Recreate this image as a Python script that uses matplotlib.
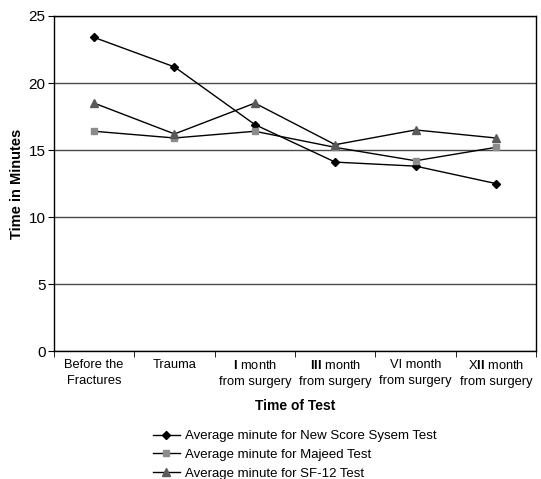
import numpy as np
import matplotlib
matplotlib.use("Agg")
import matplotlib.pyplot as plt

plt.rcParams['font.family'] = ['Liberation Sans', 'DejaVu Sans']
plt.rcParams['mathtext.fontset'] = 'custom'
plt.rcParams['mathtext.bf'] = 'Liberation Sans:bold'
plt.rcParams['mathtext.rm'] = 'Liberation Sans'

categories = ["Before the\nFractures", "Trauma", "$\\mathbf{I}$ month\nfrom surgery",
              "$\\mathbf{III}$ month\nfrom surgery", "VI month\nfrom surgery",
              "X$\\mathbf{II}$ month\nfrom surgery"]
new_score = [23.4, 21.2, 16.9, 14.1, 13.8, 12.5]
majeed = [16.4, 15.9, 16.4, 15.2, 14.2, 15.2]
sf12 = [18.5, 16.2, 18.5, 15.4, 16.5, 15.9]

fig = plt.figure(figsize=(5.41, 4.79), dpi=100)
ax = fig.add_axes([0.0998, 0.267, 0.891, 0.6996])

x = np.arange(len(categories))
ax.plot(x, new_score, color='black', lw=1, marker='D', ms=4.5, mfc='black', mec='black',
        label='Average minute for New Score Sysem Test')
ax.plot(x, majeed, color='black', lw=1, marker='s', ms=5, mfc='#8c8c8c', mec='#8c8c8c',
        label='Average minute for Majeed Test')
ax.plot(x, sf12, color='black', lw=1, marker='^', ms=5.5, mfc='#5a5a5a', mec='#5a5a5a',
        label='Average minute for SF-12 Test')

ax.set_xlim(-0.5, 5.5)
ax.set_ylim(0, 25)
ax.set_yticks([0, 5, 10, 15, 20, 25])
ax.yaxis.grid(True, color='#4a4a4a', lw=1)
ax.set_axisbelow(True)

ax.set_xticks(x)
ax.set_xticklabels(categories, fontsize=9.3, linespacing=1.4)
ax.set_xticks(np.arange(-0.5, 6, 1), minor=True)
ax.tick_params(axis='x', which='major', length=0, pad=6)
ax.tick_params(axis='x', which='minor', length=4, direction='out')
ax.tick_params(axis='y', labelsize=11, length=4, pad=2)

for s in ax.spines.values():
    s.set_color('black')
    s.set_linewidth(1)

ax.set_ylabel('Time in Minutes', fontsize=10.5, fontweight='bold', labelpad=3)
ax.set_xlabel('Time of Test', fontsize=10, fontweight='bold', labelpad=8)

fig.legend(loc='upper center', bbox_to_anchor=(0.545, 0.116), frameon=False, fontsize=9.5,
           handlelength=2, handletextpad=0.4, labelspacing=0.5, borderpad=0)

fig.savefig('out.png', dpi=100)
